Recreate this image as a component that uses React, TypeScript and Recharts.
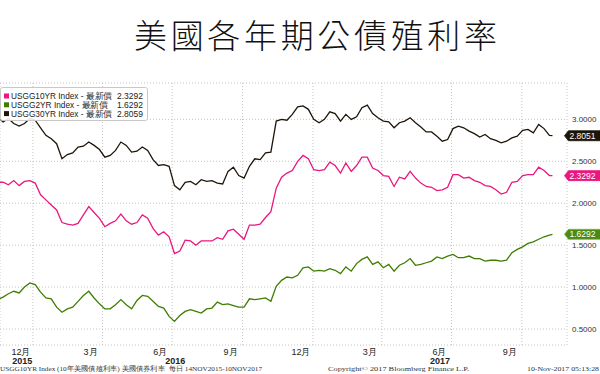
import React from "react";
import { LineChart, Line, XAxis, YAxis, CartesianGrid } from "recharts";

// weekly readings, Mondays 16 Nov 2015 .. 6 Nov 2017, plus the 10 Nov 2017 close
const usgg30 = [
  3.03, 2.97, 3.01, 2.95, 2.92, 2.95, 3.01, 2.99, 2.9, 2.81,
  2.77, 2.71, 2.53, 2.58, 2.6, 2.67, 2.68, 2.73, 2.69, 2.64,
  2.55, 2.57, 2.63, 2.73, 2.69, 2.61, 2.62, 2.67, 2.63, 2.52,
  2.45, 2.46, 2.44, 2.21, 2.16, 2.25, 2.26, 2.22, 2.28, 2.26,
  2.27, 2.24, 2.23, 2.38, 2.43, 2.33, 2.3, 2.44, 2.53, 2.52,
  2.6, 2.61, 2.98, 3.0, 2.99, 3.06, 3.15, 3.16, 3.12, 3.0,
  2.96, 3.0, 3.09, 3.07, 2.98, 3.06, 3.0, 3.03, 3.14, 3.17,
  3.07, 3.02, 2.98, 2.97, 2.9, 2.96, 2.98, 3.02, 2.96, 2.91,
  2.85, 2.85, 2.8, 2.74, 2.76, 2.89, 2.92, 2.9, 2.86, 2.83,
  2.79, 2.82, 2.77, 2.75, 2.72, 2.74, 2.78, 2.8, 2.87, 2.88,
  2.84, 2.94, 2.89, 2.81, 2.8051,
];

const usgg10 = [
  2.25, 2.25, 2.22, 2.27, 2.21, 2.26, 2.27, 2.24, 2.1, 2.04,
  1.98, 1.92, 1.77, 1.75, 1.74, 1.76, 1.86, 1.96, 1.89, 1.82,
  1.72, 1.76, 1.79, 1.87, 1.79, 1.75, 1.77, 1.86, 1.82, 1.7,
  1.62, 1.66, 1.6, 1.4, 1.43, 1.56, 1.55, 1.5, 1.55, 1.55,
  1.55, 1.59, 1.57, 1.67, 1.69, 1.63, 1.57, 1.74, 1.74, 1.75,
  1.83, 1.9, 2.18, 2.31, 2.36, 2.39, 2.5, 2.57, 2.53, 2.4,
  2.39, 2.4, 2.49, 2.45, 2.36, 2.48, 2.38, 2.45, 2.55, 2.55,
  2.42, 2.39, 2.33, 2.32, 2.2, 2.31, 2.29, 2.38, 2.3, 2.24,
  2.2, 2.19, 2.15, 2.16, 2.19, 2.34, 2.34, 2.3, 2.31, 2.27,
  2.25, 2.21, 2.2, 2.16, 2.11, 2.13, 2.25, 2.26, 2.33, 2.34,
  2.34, 2.43, 2.39, 2.33, 2.3292,
];

const usgg2 = [
  0.85, 0.88, 0.92, 0.95, 0.93, 1.0, 1.05, 1.03, 0.94, 0.87,
  0.86, 0.76, 0.7, 0.74, 0.76, 0.83, 0.9, 0.95, 0.87, 0.8,
  0.74, 0.74, 0.79, 0.85, 0.79, 0.74, 0.84, 0.9, 0.89, 0.83,
  0.77, 0.75, 0.65, 0.59, 0.66, 0.71, 0.73, 0.71, 0.69, 0.74,
  0.75, 0.82, 0.79, 0.8, 0.78, 0.76, 0.76, 0.86, 0.85, 0.86,
  0.87, 0.83, 1.01, 1.08, 1.12, 1.11, 1.14, 1.23, 1.24, 1.19,
  1.2, 1.19, 1.22, 1.2, 1.16, 1.24, 1.19, 1.28, 1.33, 1.36,
  1.27, 1.3, 1.23, 1.27, 1.19, 1.26, 1.29, 1.34, 1.26, 1.27,
  1.29, 1.31, 1.36, 1.34, 1.37, 1.39, 1.35, 1.35, 1.37, 1.34,
  1.34, 1.31, 1.32, 1.32, 1.31, 1.32, 1.41, 1.45, 1.48, 1.52,
  1.54, 1.57, 1.6, 1.62, 1.6292,
];

// days counted from 14 Nov 2015
const FIRST_DAY = 2; // 16 Nov 2015
const LAST_DAY = 727; // 10 Nov 2017
const sampleDays = usgg30.map((_, i) => (i < usgg30.length - 1 ? FIRST_DAY + 7 * i : LAST_DAY));

// gridlines sit on the first day of Jan/Apr/Jul/Oct, labels name the month before
const monthTickDays = [48, 139, 230, 322, 414, 504, 595, 687];
const monthLabels = ["12月", "3月", "6月", "9月", "12月", "3月", "6月", "9月"];
const yearTickDays = [34, 234, 580];
const yearLabels = ["2015", "2016", "2017"];
const yTicks = [0.5, 1, 1.5, 2, 2.5, 3];

const seriesNames = ["USGG10YR Index", "USGG2YR Index", "USGG30YR Index"];
const legendValues = ["2.3292", "1.6292", "2.8059"];

const PINK = "#e9177f";
const GREEN = "#3f7d00";
const BLACK = "#1e1509";

const data = sampleDays.map((day, i) => ({
  day,
  y10: usgg10[i],
  y2: usgg2[i],
  y30: usgg30[i],
}));

const LAST = data.length - 1;

const MonthTick = ({ x, y, payload }: any) => {
  const i = monthTickDays.indexOf(payload.value);
  return (
    <text x={x - 12} y={y + 10} textAnchor="middle" fontSize={9} fill="#222" fontFamily="Liberation Sans">
      {monthLabels[i]}
    </text>
  );
};

const YearTick = ({ x, y, payload }: any) => {
  const i = yearTickDays.indexOf(payload.value);
  return (
    <text x={x} y={y + 5} textAnchor="middle" fontSize={9} fontWeight="bold" fill="#222" fontFamily="Liberation Sans">
      {yearLabels[i]}
    </text>
  );
};

const ValueTick = ({ x, y, payload }: any) => (
  <text x={x} y={y + 3} textAnchor="start" fontSize={8} fill="#333" fontFamily="Liberation Sans">
    {payload.value.toFixed(4)}
  </text>
);

const badge = (fill: string, stroke: string) => (props: any) => {
  const { x, y, index, value } = props;
  if (index !== LAST) return null;
  const bx = x + 12;
  return (
    <g>
      <path
        d={`M${bx},${y} L${bx + 4},${y - 5} L${bx + 36},${y - 5} L${bx + 36},${y + 5} L${bx + 4},${y + 5} Z`}
        fill={fill}
        stroke={stroke}
        strokeWidth={0.8}
      />
      <text x={bx + 5} y={y + 3} fontSize={8.5} fill="#fff" fontFamily="Liberation Sans">
        {Number(value).toFixed(4)}
      </text>
    </g>
  );
};

export default function App() {
  const legendColors = [PINK, GREEN, BLACK];
  return (
    <div style={{ position: "absolute", left: 0, top: 0, width: 600, height: 374, background: "#fff" }}>
      <LineChart width={600} height={374} data={data} margin={{ top: 83, right: 0, bottom: 0, left: 0 }}>
        <CartesianGrid stroke="#c4c4c4" strokeDasharray="1 2" />
        <XAxis
          dataKey="day"
          type="number"
          domain={[5, 746]}
          allowDataOverflow
          ticks={monthTickDays}
          interval={0}
          height={14}
          axisLine={false}
          tickLine={false}
          tickSize={0}
          tickMargin={0}
          tick={<MonthTick />}
        />
        <XAxis
          xAxisId="year"
          dataKey="day"
          type="number"
          domain={[5, 746]}
          allowDataOverflow
          ticks={yearTickDays}
          interval={0}
          height={15}
          axisLine={false}
          tickLine={false}
          tickSize={0}
          tickMargin={0}
          tick={<YearTick />}
        />
        <YAxis
          orientation="right"
          width={33}
          type="number"
          domain={[0.309, 3.434]}
          allowDataOverflow
          ticks={yTicks}
          interval={0}
          axisLine={false}
          tickLine={false}
          tickSize={0}
          tickMargin={5}
          tick={<ValueTick />}
        />
        <Line dataKey="y30" stroke={BLACK} strokeWidth={1.3} dot={false} isAnimationActive={false} label={badge(BLACK, BLACK)} />
        <Line dataKey="y10" stroke={PINK} strokeWidth={1.3} dot={false} isAnimationActive={false} label={badge(PINK, PINK)} />
        <Line dataKey="y2" stroke={GREEN} strokeWidth={1.3} dot={false} isAnimationActive={false} label={badge("#4b8a12", "#7fb24a")} />
      </LineChart>
      <svg width={600} height={374} style={{ position: "absolute", left: 0, top: 0, pointerEvents: "none" }}>
        <text x={134} y={48} fontSize={33} fontWeight={300} textLength={363} lengthAdjust="spacing" fill="#111" fontFamily="Noto Sans CJK TC">
          美國各年期公債殖利率
        </text>
        <rect x={0.5} y={87.5} width={147} height={33} rx={2} fill="#fff" fillOpacity={0.88} stroke="#c8c8c8" />
        {seriesNames.map((name, i) => {
          const cy = 96 + i * 8.8;
          return (
            <g key={name}>
              <rect x={4} y={cy - 2.5} width={5} height={5} fill={legendColors[i]} />
              <text x={11} y={cy + 3} fontSize={8.5} fill="#222" textLength={i === 1 ? 97 : 101} lengthAdjust="spacingAndGlyphs" fontFamily="Liberation Sans">
                {`${name} - 最新價`}
              </text>
              <text x={143} y={cy + 3} fontSize={8.5} fill="#222" textAnchor="end" fontFamily="Liberation Sans">
                {legendValues[i]}
              </text>
            </g>
          );
        })}
        <text x={0} y={371} fontSize={7} fill="#333" textLength={262} lengthAdjust="spacingAndGlyphs" fontFamily="Liberation Serif">
          USGG10YR Index (10年美國債殖利率) 美國債券利率 &#160;每日 14NOV2015-10NOV2017
        </text>
        <text x={328} y={371} fontSize={7} fill="#333" textLength={141} lengthAdjust="spacingAndGlyphs" fontFamily="Liberation Serif">
          Copyright© 2017 Bloomberg Finance L.P.
        </text>
        <text x={527} y={371} fontSize={7} fill="#333" textLength={72} lengthAdjust="spacingAndGlyphs" fontFamily="Liberation Serif">
          10-Nov-2017 05:13:28
        </text>
      </svg>
    </div>
  );
}
